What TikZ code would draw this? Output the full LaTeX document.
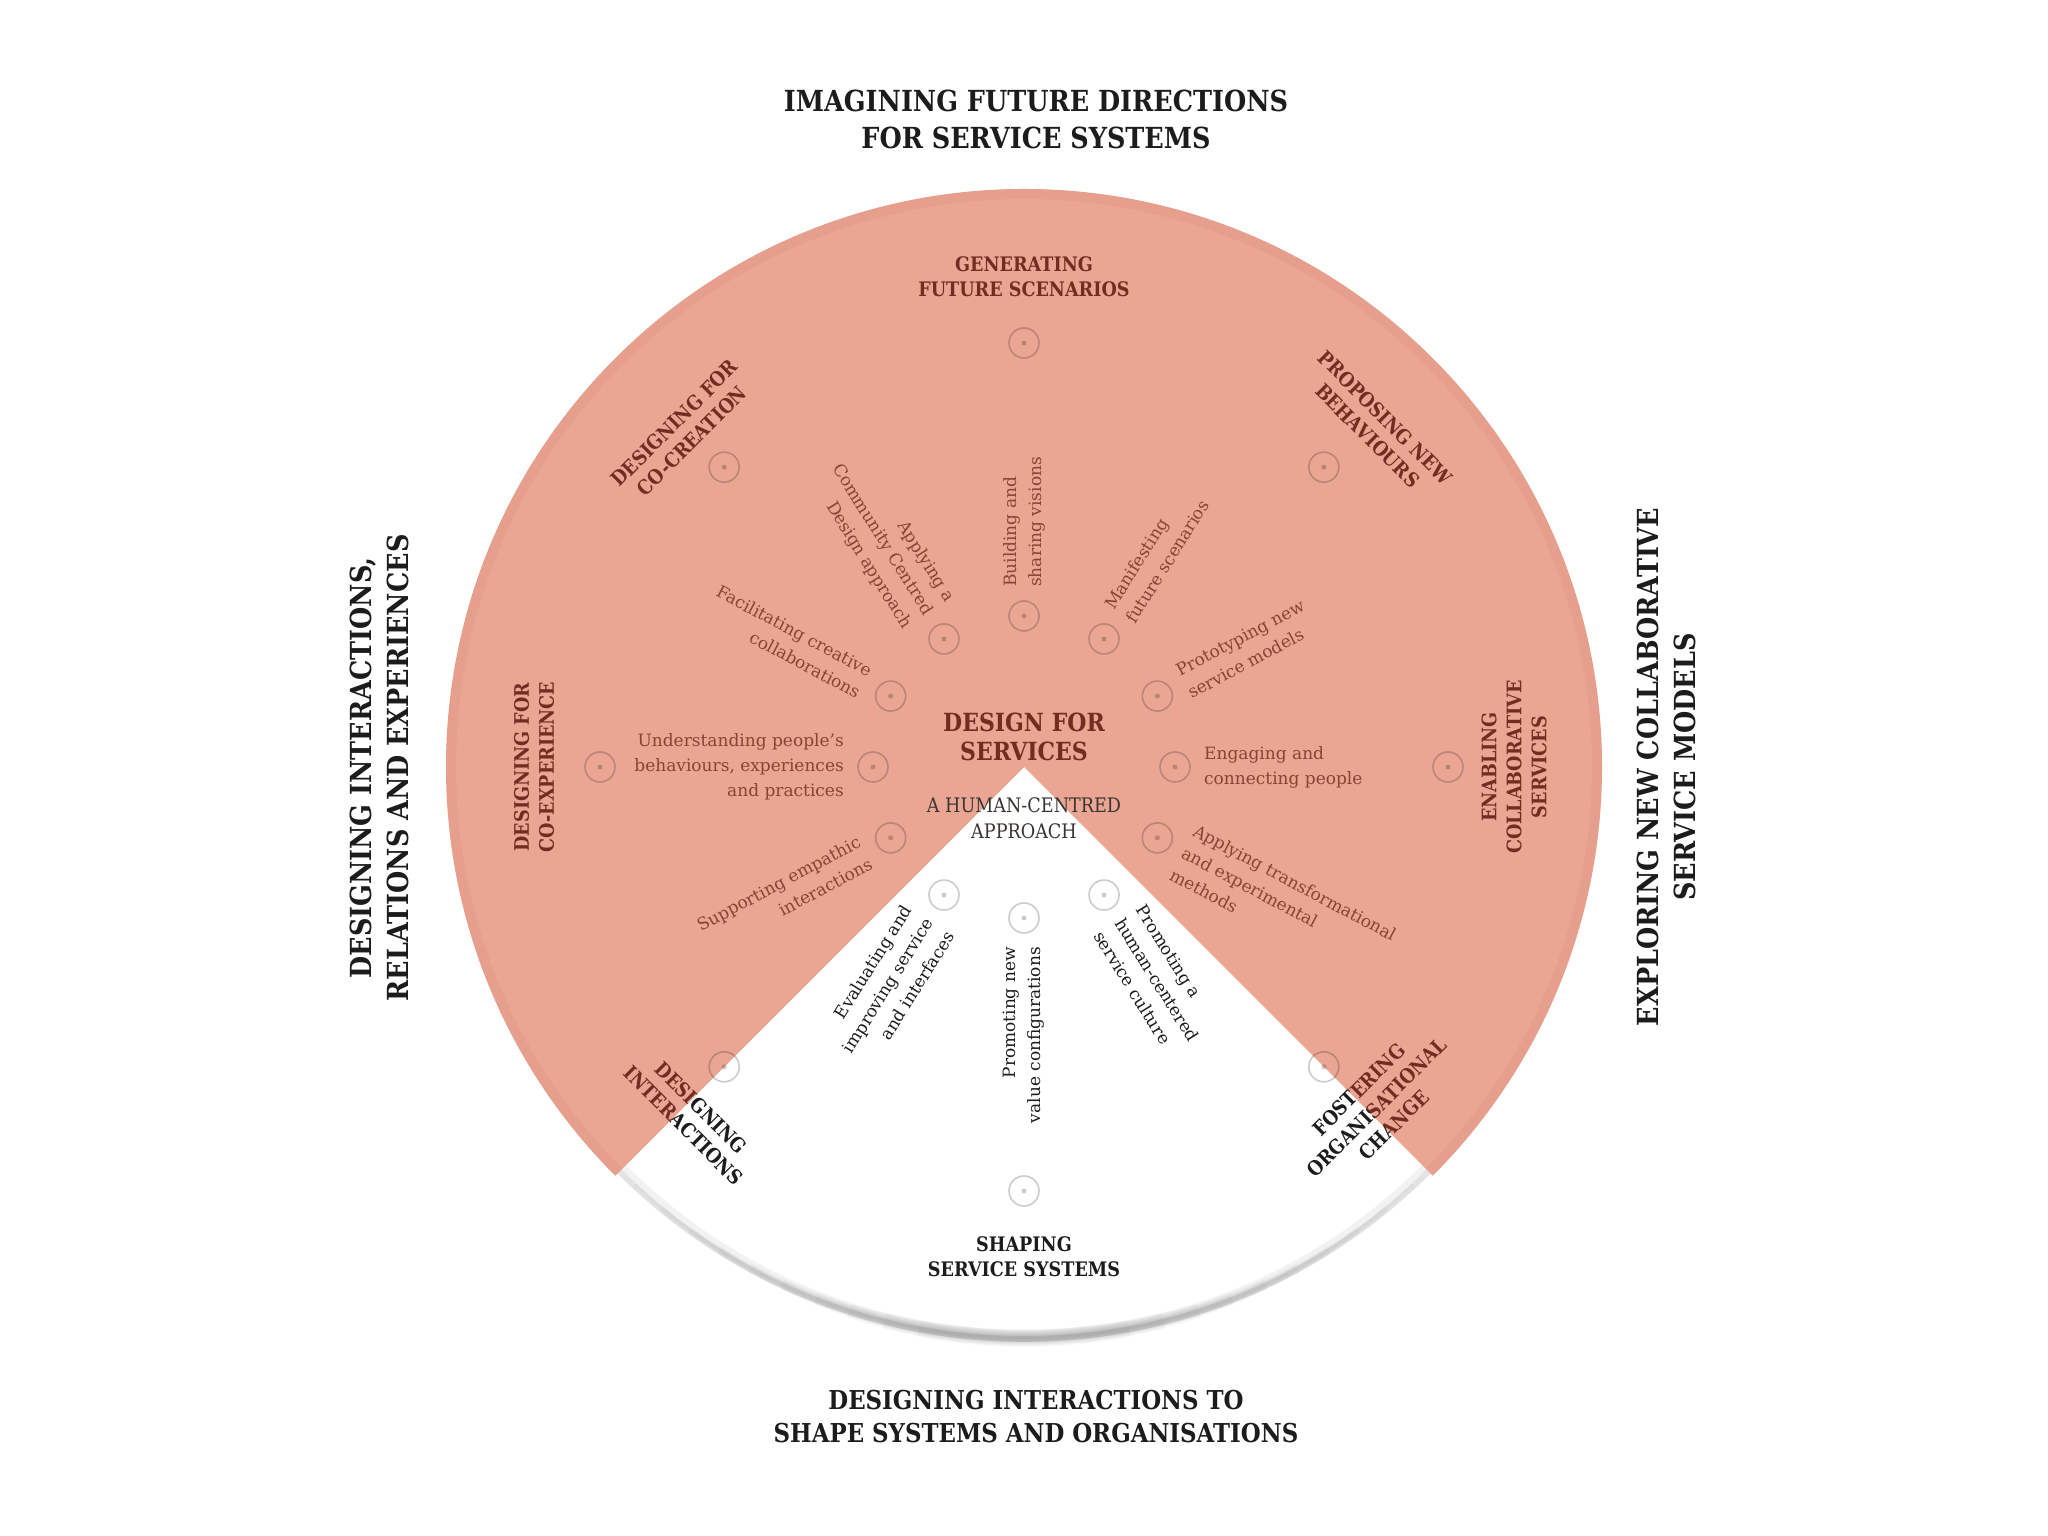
\documentclass[tikz,border=0pt]{standalone}
\usepackage{fontspec}
\setmainfont{DejaVu Serif}
\newfontfamily\condfont{DejaVu Serif}[FakeStretch=0.88]
\definecolor{salmon}{RGB}{234,166,147}
\definecolor{rimc}{RGB}{214,138,116}
\definecolor{darkred}{RGB}{116,44,33}
\definecolor{itemred}{RGB}{138,66,52}
\definecolor{ink}{RGB}{28,28,28}
\definecolor{midgray}{RGB}{58,52,50}
\tikzset{
  marker/.style={circle, minimum size=30pt, inner sep=0pt, draw=black, draw opacity=0.2, line width=1.6pt,
    path picture={\fill[black, opacity=0.2] (path picture bounding box.center) circle (2.5pt);}},
  item/.style={font=\fontsize{17}{25}\selectfont, text=itemred, inner sep=0pt},
  itemw/.style={item, text=ink},
  outer/.style={font=\condfont\fontsize{20}{25}\selectfont\bfseries, text=darkred, inner sep=0pt, align=center},
  outerw/.style={outer, text=ink},
  title/.style={font=\condfont\fontsize{29}{37}\selectfont\bfseries, text=ink, align=center, inner sep=0pt},
}
\begin{document}
\begin{tikzpicture}[x=1pt,y=1pt]
\useasboundingbox (0,0) rectangle (2048,1536);
\fill[white] (0,0) rectangle (2048,1536);
\begin{scope}[shift={(1024,769)}]
  % soft gray arc along the open wedge
  \draw[black, opacity=0.05, line width=12pt] (225:569) arc (225:315:569);
  \draw[black, opacity=0.06, line width=6pt] (225:572) arc (225:315:572);
  \foreach \k in {0,...,9}
    \draw[black, opacity=0.022, line width={3+1.6*\k}] ({227+3.6*\k}:571) arc ({227+3.6*\k}:{313-3.6*\k}:571);
  % salmon sector
  \fill[salmon] (0,0) -- (-45:578) arc (-45:225:578) -- cycle;
  \draw[rimc, opacity=0.22, line width=10pt] (-45:573) arc (-45:225:573);

  % inner markers
  \node[marker] (i000) at (0:151) {};
  \node[marker] (i028) at (28:151) {};
  \node[marker] (i058) at (58:151) {};
  \node[marker] (i090) at (90:151) {};
  \node[marker] (i122) at (122:151) {};
  \node[marker] (i152) at (152:151) {};
  \node[marker] (i180) at (180:151) {};
  \node[marker] (i208) at (208:151) {};
  \node[marker] (i238) at (238:151) {};
  \node[marker] (i270) at (270:151) {};
  \node[marker] (i302) at (302:151) {};
  \node[marker] (i332) at (332:151) {};
  % outer markers
  \node[marker] (o000) at (0:424) {};
  \node[marker] (o045) at (45:424) {};
  \node[marker] (o090) at (90:424) {};
  \node[marker] (o135) at (135:424) {};
  \node[marker] (o180) at (180:424) {};
  \node[marker] (o225) at (225:424) {};
  \node[marker] (o270) at (270:424) {};
  \node[marker] (o315) at (315:424) {};

  % inner texts, right half (reading outward)
  \node[item, anchor=west, align=left, rotate=90] (t090) at (90:180) {Building and\\sharing visions};
  \node[item, anchor=west, align=left, rotate=58] (t058) at (58:180) {Manifesting\\future scenarios};
  \node[item, anchor=west, align=left, rotate=28] (t028) at (28:180) {Prototyping new\\service models};
  \node[item, anchor=west, align=left] (t000) at (0:180) {Engaging and\\connecting people};
  \node[item, anchor=west, align=left, rotate=-28] (t332) at (332:180) {Applying transformational\\and experimental\\methods};
  \node[itemw, anchor=west, align=left, rotate=-58] (t302) at (302:180) {Promoting a\\human-centered\\service culture};
  % inner texts, left half (reading inward)
  \node[item, anchor=east, align=right, rotate=-58] (t122) at (122:180) {Applying a\\Community Centred\\Design approach};
  \node[item, anchor=east, align=right, rotate=-28] (t152) at (152:180) {Facilitating creative\\collaborations};
  \node[item, anchor=east, align=right] (t180) at (180:180) {Understanding people's\\behaviours, experiences\\and practices};
  \node[item, anchor=east, align=right, rotate=28] (t208) at (208:180) {Supporting empathic\\interactions};
  \node[itemw, anchor=east, align=right, rotate=58] (t238) at (238:180) {Evaluating and\\improving service\\and interfaces};
  \node[itemw, anchor=east, align=right, rotate=90] (t270) at (270:180) {Promoting new\\value configurations};

  % outer labels
  \node[outer] (l090) at (90:490) {GENERATING\\FUTURE SCENARIOS};
  \node[outer, rotate=-45] (l045) at (44:490) {PROPOSING NEW\\BEHAVIOURS};
  \node[outer, rotate=45] (l135) at (135.5:478) {DESIGNING FOR\\CO-CREATION};
  \node[outer, rotate=90] (l000) at (0:490) {ENABLING\\COLLABORATIVE\\SERVICES};
  \node[outer, rotate=90] (l180) at (180:490) {DESIGNING FOR\\CO-EXPERIENCE};
  \node[outerw] (l270) at (270:490) {SHAPING\\SERVICE SYSTEMS};
  % labels crossing the wedge edge: red over salmon, black over white
  \begin{scope}
    \clip (0,0) -- (-45:1000) -- (45:1500) -- (135:1500) -- (225:1000) -- cycle;
    \node[outer, rotate=-45] (l225) at (226.5:482) {DESIGNING\\INTERACTIONS};
    \node[outer, rotate=45] (l315) at (316:490) {FOSTERING\\ORGANISATIONAL\\CHANGE};
  \end{scope}
  \begin{scope}
    \clip (0,0) -- (225:1000) -- (270:1500) -- (315:1000) -- cycle;
    \node[outerw, rotate=-45] (l225w) at (226.5:482) {DESIGNING\\INTERACTIONS};
    \node[outerw, rotate=45] (l315w) at (316:490) {FOSTERING\\ORGANISATIONAL\\CHANGE};
  \end{scope}

  % centre
  \node[font=\condfont\fontsize{25}{29}\selectfont\bfseries, text=darkred, align=center, inner sep=0pt] (core) at (0,30) {DESIGN FOR\\SERVICES};
  \node[font=\condfont\fontsize{20}{26}\selectfont, text=midgray, align=center, inner sep=0pt] (approach) at (0,-51) {A HUMAN-CENTRED\\APPROACH};
\end{scope}

% titles
\node[title] (top) at (1036,1417) {IMAGINING FUTURE DIRECTIONS\\FOR SERVICE SYSTEMS};
\node[title, font=\condfont\fontsize{26}{33}\selectfont\bfseries] (bottom) at (1036,119) {DESIGNING INTERACTIONS TO\\SHAPE SYSTEMS AND ORGANISATIONS};
\node[title, rotate=90] (left) at (379,768) {DESIGNING INTERACTIONS,\\RELATIONS AND EXPERIENCES};
\node[title, rotate=90] (right) at (1666,769) {EXPLORING NEW COLLABORATIVE\\SERVICE MODELS};
\end{tikzpicture}
\end{document}
